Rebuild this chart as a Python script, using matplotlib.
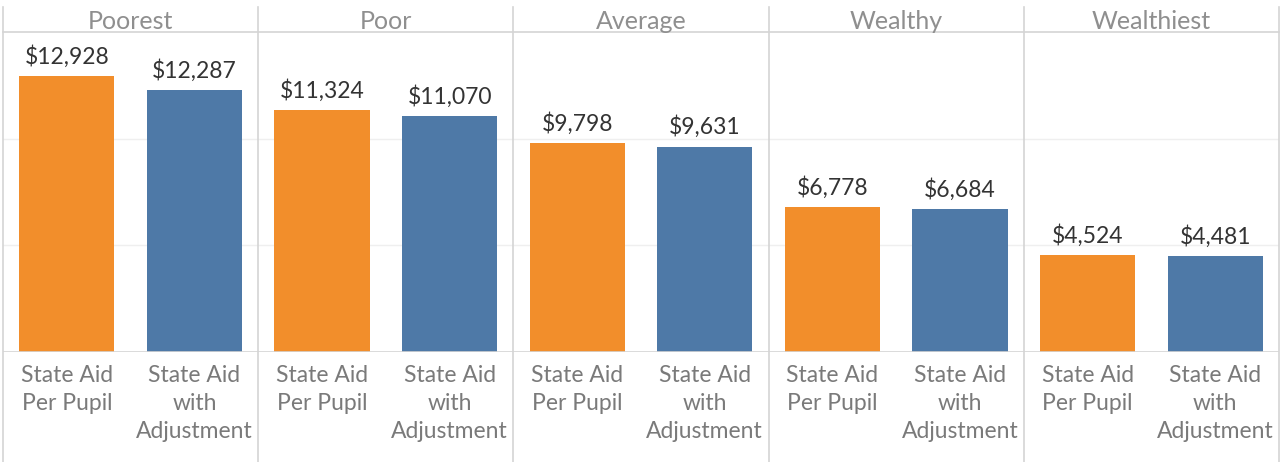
import numpy as np
import matplotlib
matplotlib.use("Agg")
import matplotlib.pyplot as plt
from matplotlib.lines import Line2D
from matplotlib.transforms import blended_transform_factory

plt.rcParams['font.family'] = ['Lato', 'DejaVu Sans']

groups = ["Poorest", "Poor", "Average", "Wealthy", "Wealthiest"]
measures = ["State Aid\nPer Pupil", "State Aid\nwith\nAdjustment"]
per_pupil = [12928, 11324, 9798, 6778, 4524]
with_adj = [12287, 11070, 9631, 6684, 4481]

orange = "#F28E2B"
blue = "#4E79A7"
line_col = "#d4d4d4"

W, H = 1281, 462
fig = plt.figure(figsize=(W / 100, H / 100), dpi=100)
ax = fig.add_axes([3 / W, (H - 352) / H, 1276 / W, 320 / H])

vals = []
cols = []
for a, b in zip(per_pupil, with_adj):
    vals += [a, b]
    cols += [orange, blue]
x = np.arange(len(vals))

ax.bar(x, vals, width=0.745, color=cols, zorder=2)
ax.set_xlim(-0.5, len(vals) - 0.5)
ax.set_ylim(0, 15000)
for v in [5000, 10000]:
    ax.axhline(v, color="#efefef", lw=1, zorder=1)
ax.axhline(0, color=line_col, lw=1.2, zorder=3)
ax.axhline(15000, color=line_col, lw=1.2, zorder=3, clip_on=False)
ax.set_xticks([])
ax.set_yticks([])
for s in ax.spines.values():
    s.set_visible(False)

for xi, v in zip(x, vals):
    ax.annotate(f"${v:,}", (xi, v), xytext=(0, 6), textcoords="offset points",
                ha="center", va="bottom", fontsize=16.5, color="#333333")

for xi in x:
    ax.annotate(measures[xi % 2], (xi, 0), xytext=(0, -9), textcoords="offset points",
                ha="center", va="top", fontsize=16.5, color="#7a7a7a", linespacing=1.42)

tr = blended_transform_factory(ax.transData, fig.transFigure)
for i, g in enumerate(groups):
    ax.text(2 * i + 0.5, (H - 29) / H, g, transform=tr, ha="center", va="baseline",
            fontsize=18, color="#8f8f8f")

for xb in np.arange(-0.5, len(vals), 2):
    fig.add_artist(Line2D([xb, xb], [0, (H - 7) / H], transform=tr, color=line_col, lw=1.2))

fig.savefig("out.png", dpi=100, facecolor="white")
